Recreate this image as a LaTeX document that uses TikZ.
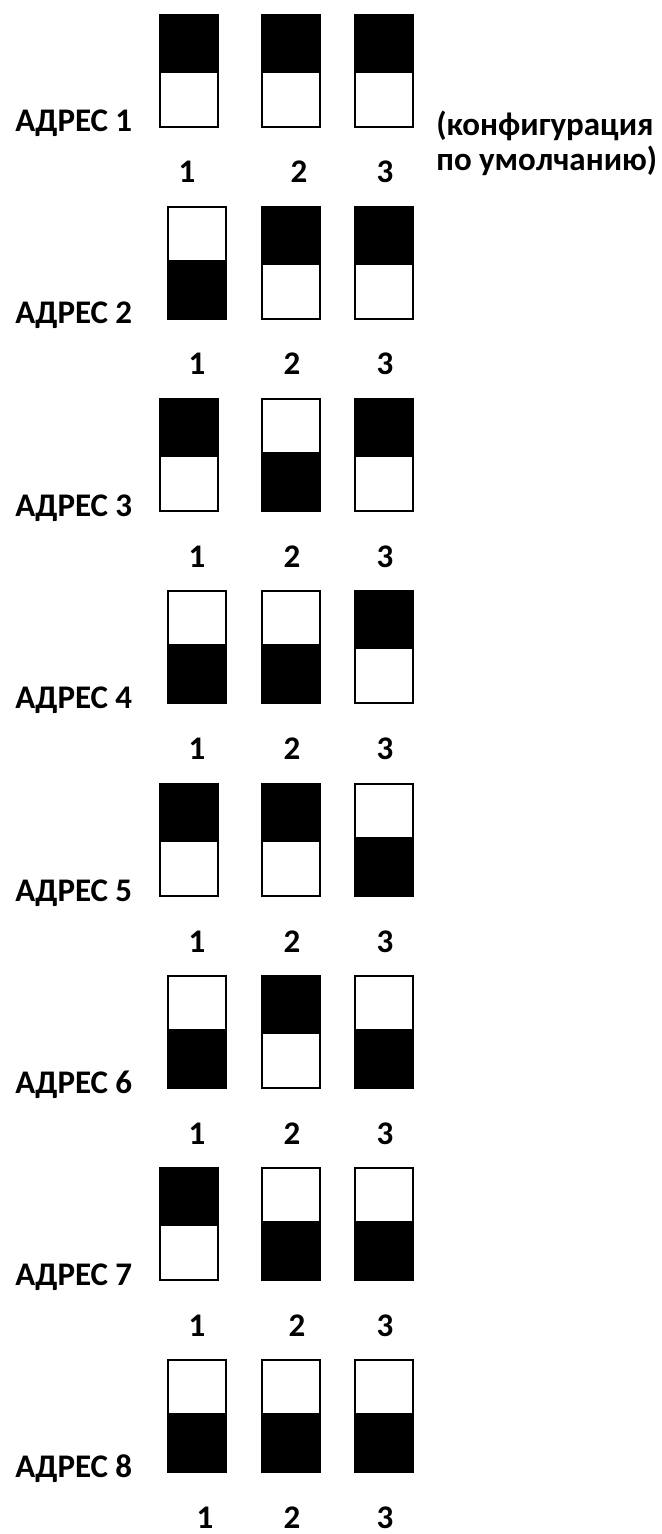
\documentclass[tikz,border=0pt]{standalone}
\usepackage{fontspec}
\setmainfont{Carlito}
\usepackage{tikz}
\usetikzlibrary{positioning}
\definecolor{dipInk}{HTML}{000000}
\tikzset{
  dipbox/.style={rectangle,draw=dipInk,line width=1pt,fill=white,
                 minimum width=29pt,minimum height=56pt,inner sep=0pt},
  dipup/.style={dipbox,path picture={\fill[dipInk]
      (path picture bounding box.north west) rectangle
      ([yshift=-1pt]path picture bounding box.east);}},
  dipdown/.style={dipbox,path picture={\fill[dipInk]
      ([yshift=1.5pt]path picture bounding box.west) rectangle
      (path picture bounding box.south east);}},
  diplabel/.style={font=\fontsize{16.5}{19}\selectfont\bfseries,inner sep=0pt,
                   anchor=base west},
  dipnum/.style={diplabel,anchor=base},
  dipnote/.style={diplabel}
}
\begin{document}
\begin{tikzpicture}[x=0.5pt,y=-0.5pt]
  \useasboundingbox (0,0) rectangle (661,1534);
  % row 1
  \node[dipup] (s11) at (189,71) {};
  \node[dipup] (s12) at (291,71) {};
  \node[dipup] (s13) at (384,71) {};
  \node[diplabel] (a1) at (15,132) {АДРЕС 1};
  \node[dipnum] (n11) at (187,183) {1};
  \node[dipnum] (n12) at (299,183) {2};
  \node[dipnum] (n13) at (385,183) {3};
  \node[dipnote] (note1) at ([xshift=11pt,yshift=-4pt]s13.south east)
    {(конфигурация};
  \node[dipnote] (note2) at ([yshift=-17.5pt]note1.base west)
    {по умолчанию)};
  % row 2
  \node[dipdown] (s21) at (197,263) {};
  \node[dipup] (s22) at (291,263) {};
  \node[dipup] (s23) at (384,263) {};
  \node[diplabel] (a2) at (15,324) {АДРЕС 2};
  \node[dipnum] (n21) at (197,375) {1};
  \node[dipnum] (n22) at (292,375) {2};
  \node[dipnum] (n23) at (385,375) {3};
  % row 3
  \node[dipup] (s31) at (189,455) {};
  \node[dipdown] (s32) at (291,455) {};
  \node[dipup] (s33) at (384,455) {};
  \node[diplabel] (a3) at (15,516) {АДРЕС 3};
  \node[dipnum] (n31) at (197,567) {1};
  \node[dipnum] (n32) at (292,567) {2};
  \node[dipnum] (n33) at (385,567) {3};
  % row 4
  \node[dipdown] (s41) at (197,647) {};
  \node[dipdown] (s42) at (291,647) {};
  \node[dipup] (s43) at (384,647) {};
  \node[diplabel] (a4) at (15,708) {АДРЕС 4};
  \node[dipnum] (n41) at (197,759) {1};
  \node[dipnum] (n42) at (292,759) {2};
  \node[dipnum] (n43) at (385,759) {3};
  % row 5
  \node[dipup] (s51) at (189,840) {};
  \node[dipup] (s52) at (291,840) {};
  \node[dipdown] (s53) at (384,840) {};
  \node[diplabel] (a5) at (15,901) {АДРЕС 5};
  \node[dipnum] (n51) at (197,952) {1};
  \node[dipnum] (n52) at (292,952) {2};
  \node[dipnum] (n53) at (385,952) {3};
  % row 6
  \node[dipdown] (s61) at (197,1032) {};
  \node[dipup] (s62) at (291,1032) {};
  \node[dipdown] (s63) at (384,1032) {};
  \node[diplabel] (a6) at (15,1093) {АДРЕС 6};
  \node[dipnum] (n61) at (197,1144) {1};
  \node[dipnum] (n62) at (292,1144) {2};
  \node[dipnum] (n63) at (385,1144) {3};
  % row 7
  \node[dipup] (s71) at (189,1224) {};
  \node[dipdown] (s72) at (291,1224) {};
  \node[dipdown] (s73) at (384,1224) {};
  \node[diplabel] (a7) at (15,1285) {АДРЕС 7};
  \node[dipnum] (n71) at (197,1336) {1};
  \node[dipnum] (n72) at (297,1336) {2};
  \node[dipnum] (n73) at (385,1336) {3};
  % row 8
  \node[dipdown] (s81) at (197,1416) {};
  \node[dipdown] (s82) at (291,1416) {};
  \node[dipdown] (s83) at (384,1416) {};
  \node[diplabel] (a8) at (15,1477) {АДРЕС 8};
  \node[dipnum] (n81) at (205,1528) {1};
  \node[dipnum] (n82) at (292,1528) {2};
  \node[dipnum] (n83) at (385,1528) {3};
\end{tikzpicture}
\end{document}
